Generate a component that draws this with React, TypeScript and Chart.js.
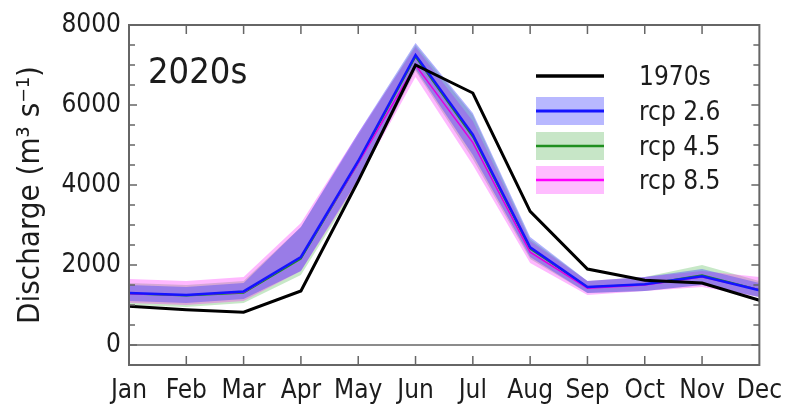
import React, { useEffect, useRef } from 'react';
import { Chart, registerables } from 'chart.js';

Chart.register(...registerables);

const months = ['Jan', 'Feb', 'Mar', 'Apr', 'May', 'Jun', 'Jul', 'Aug', 'Sep', 'Oct', 'Nov', 'Dec'];

const obs1970 = [970, 880, 820, 1350, 4100, 7000, 6300, 3340, 1900, 1620, 1550, 1120];

const rcp26 = [1300, 1250, 1340, 2200, 4600, 7250, 5260, 2440, 1450, 1520, 1720, 1370];
const rcp26Low = [1100, 1050, 1150, 1850, 4150, 6900, 4750, 2200, 1300, 1350, 1500, 1200];
const rcp26High = [1500, 1450, 1550, 2950, 5300, 7550, 5800, 2700, 1600, 1700, 1900, 1550];

const rcp45 = [1280, 1230, 1300, 2150, 4550, 7200, 5200, 2400, 1450, 1520, 1750, 1380];
const rcp45Low = [1000, 950, 1050, 1750, 4050, 6850, 4650, 2150, 1300, 1350, 1500, 1200];
const rcp45High = [1550, 1500, 1600, 2950, 5250, 7500, 5750, 2650, 1600, 1700, 2000, 1600];

const rcp85 = [1280, 1250, 1320, 2200, 4550, 7000, 5060, 2320, 1420, 1500, 1700, 1380];
const rcp85Low = [1050, 1000, 1100, 1850, 4100, 6700, 4500, 2050, 1250, 1350, 1450, 1200];
const rcp85High = [1650, 1600, 1700, 3050, 5300, 7450, 5600, 2600, 1600, 1700, 1850, 1700];

const yTicks = [0, 2000, 4000, 6000, 8000];
const yMinorTicks = [500, 1000, 1500, 2500, 3000, 3500, 4500, 5000, 5500, 6500, 7000, 7500];
const yMin = -500;
const yMax = 8000;

const legendLabels = ['1970s', 'rcp 2.6', 'rcp 4.5', 'rcp 8.5'];
const panelTitle = '2020s';
const yAxisTitle = 'Discharge (m\u00B3 s\u207B\u00B9)';

const FONT = '"DejaVu Sans Condensed", "DejaVu Sans", sans-serif';
const TEXT = '#1c1c1c';
const FRAME = '#666666';

const decorPlugin = {
  id: 'decor',
  beforeDatasetsDraw(chart: any) {
    const { ctx, chartArea } = chart;
    const y = chart.scales.y;
    const y0 = y.getPixelForValue(0);
    ctx.save();
    ctx.strokeStyle = FRAME;
    ctx.lineWidth = 1.5;
    ctx.beginPath();
    ctx.moveTo(chartArea.left, y0);
    ctx.lineTo(chartArea.right, y0);
    ctx.stroke();
    ctx.restore();
  },
  afterDraw(chart: any) {
    const { ctx, chartArea } = chart;
    const xs = chart.scales.x;
    const ys = chart.scales.y;
    const { left, right, top, bottom } = chartArea;
    ctx.save();
    ctx.strokeStyle = FRAME;
    ctx.lineWidth = 1.5;
    ctx.beginPath();
    for (let i = 1; i < months.length - 1; i++) {
      const px = xs.getPixelForValue(i);
      ctx.moveTo(px, bottom);
      ctx.lineTo(px, bottom - 9);
      ctx.moveTo(px, top);
      ctx.lineTo(px, top + 9);
    }
    for (const v of yTicks) {
      const py = ys.getPixelForValue(v);
      ctx.moveTo(left, py);
      ctx.lineTo(left + 8, py);
      ctx.moveTo(right, py);
      ctx.lineTo(right - 8, py);
    }
    for (const v of yMinorTicks) {
      const py = ys.getPixelForValue(v);
      ctx.moveTo(left, py);
      ctx.lineTo(left + 6, py);
      ctx.moveTo(right, py);
      ctx.lineTo(right - 6, py);
    }
    ctx.stroke();
    ctx.lineWidth = 2;
    ctx.strokeRect(left, top, right - left, bottom - top);

    ctx.fillStyle = TEXT;
    ctx.font = `36px ${FONT}`;
    ctx.textAlign = 'left';
    ctx.textBaseline = 'alphabetic';
    ctx.fillText(panelTitle, left + 19, top + 58);

    ctx.save();
    ctx.font = `31px ${FONT}`;
    ctx.translate(31, (top + bottom) / 2);
    ctx.rotate(-Math.PI / 2);
    ctx.textAlign = 'center';
    ctx.textBaseline = 'middle';
    ctx.fillText(yAxisTitle, 0, 0);
    ctx.restore();

    const lx0 = left + 407;
    const lx1 = left + 475;
    const rows = [top + 51, top + 86, top + 121, top + 155];
    const swatch = [null, 'rgba(0,0,255,0.28)', 'rgba(0,140,0,0.22)', 'rgba(255,0,255,0.26)'];
    const lineCol = ['#000000', '#1414ff', '#1f8f1f', '#ff00ff'];
    const lineW = [3.5, 3, 2.5, 2.5];
    rows.forEach((ry, i) => {
      const sw = swatch[i];
      if (sw) {
        ctx.fillStyle = sw;
        ctx.fillRect(lx0, ry - 14, lx1 - lx0, 28);
      }
      ctx.strokeStyle = lineCol[i];
      ctx.lineWidth = lineW[i];
      ctx.beginPath();
      ctx.moveTo(lx0, ry);
      ctx.lineTo(lx1, ry);
      ctx.stroke();
      ctx.fillStyle = TEXT;
      ctx.font = `26px ${FONT}`;
      ctx.textAlign = 'left';
      ctx.textBaseline = 'alphabetic';
      ctx.fillText(legendLabels[i], left + 510, ry + 9);
    });
    ctx.restore();
  },
};

function lineDs(label: string, data: number[], color: string, width: number, order: number) {
  return {
    label,
    data,
    borderColor: color,
    borderWidth: width,
    pointRadius: 0,
    fill: false,
    tension: 0,
    order,
  };
}

function bandDs(label: string, data: number[], color: string, target: number | false, order: number) {
  return {
    label,
    data,
    borderWidth: 0,
    borderColor: 'rgba(0,0,0,0)',
    backgroundColor: color,
    pointRadius: 0,
    fill: target === false ? false : { target },
    tension: 0,
    order,
  };
}

export default function App() {
  const ref = useRef<HTMLCanvasElement | null>(null);

  useEffect(() => {
    document.body.style.margin = '0';
    const canvas = ref.current;
    if (!canvas) return;
    const chart = new Chart(canvas, {
      type: 'line',
      data: {
        labels: months,
        datasets: [
          lineDs('1970s', obs1970, '#000000', 3, 0),
          lineDs('rcp 2.6', rcp26, '#1414ff', 2.5, 1),
          lineDs('rcp 8.5', rcp85, '#e000e0', 1.5, 2),
          lineDs('rcp 4.5', rcp45, '#1f8f1f', 1.5, 3),
          bandDs('rcp26 low', rcp26Low, 'rgba(0,0,0,0)', false, 4),
          bandDs('rcp26 high', rcp26High, 'rgba(60,60,255,0.40)', 4, 5),
          bandDs('rcp85 low', rcp85Low, 'rgba(0,0,0,0)', false, 6),
          bandDs('rcp85 high', rcp85High, 'rgba(255,0,255,0.28)', 6, 7),
          bandDs('rcp45 low', rcp45Low, 'rgba(0,0,0,0)', false, 8),
          bandDs('rcp45 high', rcp45High, 'rgba(0,150,0,0.22)', 8, 9),
        ] as any,
      },
      options: {
        animation: false,
        responsive: false,
        maintainAspectRatio: false,
        layout: { padding: { left: 0, right: 28, top: 25, bottom: 0 } },
        plugins: {
          legend: { display: false },
          tooltip: { enabled: false },
          title: { display: false },
        },
        scales: {
          x: {
            type: 'category',
            offset: false,
            grid: { display: false, drawTicks: false },
            border: { display: false },
            ticks: {
              color: TEXT,
              font: { family: FONT, size: 26 },
              padding: 11,
              maxRotation: 0,
              autoSkip: false,
            },
            afterFit: (s: any) => {
              s.height = 40;
            },
          },
          y: {
            type: 'linear',
            min: yMin,
            max: yMax,
            grid: { display: false, drawTicks: false },
            border: { display: false },
            ticks: {
              color: TEXT,
              font: { family: FONT, size: 26 },
              padding: 8,
              callback: (v: any) => String(v),
            },
            afterBuildTicks: (axis: any) => {
              axis.ticks = yTicks.map((v) => ({ value: v }));
            },
            afterFit: (s: any) => {
              s.width = 129;
            },
          },
        },
      },
      plugins: [decorPlugin],
    });
    return () => chart.destroy();
  }, []);

  return (
    <div style={{ width: 793, height: 405 }}>
      <canvas ref={ref} width={793} height={405} style={{ display: 'block', width: 793, height: 405 }} />
    </div>
  );
}
